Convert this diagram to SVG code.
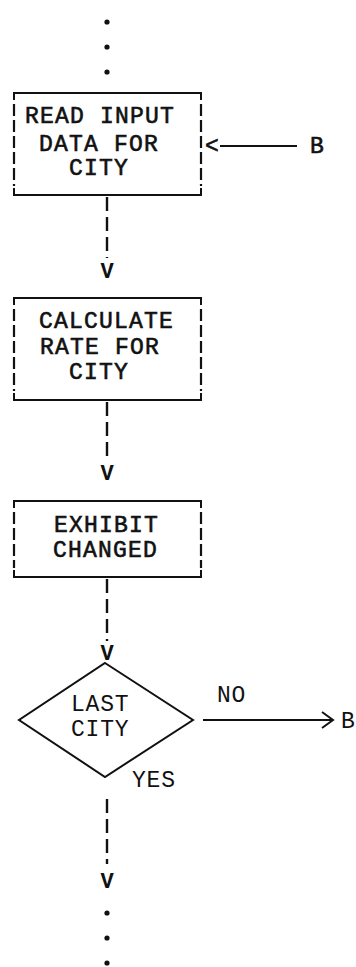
<svg xmlns="http://www.w3.org/2000/svg" width="356" height="967" viewBox="0 0 356 967">
<style>
.box-edge{stroke:#111;stroke-width:2;fill:none}
.box-side{stroke:#111;stroke-width:2.2;fill:none;stroke-dasharray:12 4}
.conn{stroke:#111;stroke-width:2.4;fill:none;stroke-dasharray:14 6}
.solid{stroke:#111;stroke-width:2;fill:none}
.bt{font-family:"Liberation Mono","Courier New",monospace;font-size:23px;letter-spacing:1.2px;fill:#111;stroke:#111;stroke-width:0.6px}
.lt{font-family:"Liberation Mono","Courier New",monospace;font-size:23px;letter-spacing:0.8px;fill:#111}
.arrow{font-family:"Liberation Mono","Courier New",monospace;font-size:22px;font-weight:bold;fill:#111;text-anchor:middle}
.dot{fill:#111}
</style>
<rect width="356" height="967" fill="#fff"/>
<g id="dots-top">
<circle class="dot" cx="107" cy="22" r="2.6"/>
<circle class="dot" cx="107" cy="47" r="2.6"/>
<circle class="dot" cx="107" cy="72" r="2.6"/>
</g>
<g id="read-input">
<path class="box-edge" d="M14 100 V93 H201 V100"/>
<path class="box-edge" d="M14 188 V195 H201 V188"/>
<path class="box-side" d="M14 104 V186 M201 104 V186"/>
<text class="bt" x="25" y="123">READ INPUT</text>
<text class="bt" x="39" y="151">DATA FOR</text>
<text class="bt" x="69" y="175">CITY</text>
</g>
<g id="calculate-rate">
<path class="box-edge" d="M14 305 V298 H201 V305"/>
<path class="box-edge" d="M14 393 V400 H201 V393"/>
<path class="box-side" d="M14 309 V391 M201 309 V391"/>
<text class="bt" x="39" y="328">CALCULATE</text>
<text class="bt" x="40" y="354">RATE FOR</text>
<text class="bt" x="69" y="379">CITY</text>
</g>
<g id="exhibit-changed">
<path class="box-edge" d="M14 508 V501 H201 V508"/>
<path class="box-edge" d="M14 570 V577 H201 V570"/>
<path class="box-side" d="M14 512 V568 M201 512 V568"/>
<text class="bt" x="54" y="532">EXHIBIT</text>
<text class="bt" x="53" y="557">CHANGED</text>
</g>
<g id="last-city">
<path class="solid" d="M105 663 L193 720 L105 777 L19 720 Z"/>
<text class="lt" x="71" y="711">LAST</text>
<text class="lt" x="71" y="736">CITY</text>
</g>
<g id="connectors">
<path class="conn" d="M107 197 V258"/>
<text class="arrow" x="107" y="278">V</text>
<path class="conn" d="M107 402 V459"/>
<text class="arrow" x="107" y="480">V</text>
<path class="conn" d="M107 579 V641"/>
<text class="arrow" x="107" y="660">V</text>
<path class="conn" d="M107 799 V864"/>
<text class="arrow" x="107" y="888">V</text>
<text class="bt" x="205" y="153">&lt;</text>
<path class="solid" d="M220 146 H297"/>
<text class="bt" x="310" y="153">B</text>
<path class="solid" d="M203 720 H333 M322 712 L333 720 L322 728"/>
<text class="lt" x="217" y="702">NO</text>
<text class="lt" x="341" y="728">B</text>
<text class="lt" x="132" y="787">YES</text>
</g>
<g id="dots-bottom">
<circle class="dot" cx="107" cy="913" r="2.6"/>
<circle class="dot" cx="107" cy="938" r="2.6"/>
<circle class="dot" cx="107" cy="963" r="2.6"/>
</g>
</svg>
